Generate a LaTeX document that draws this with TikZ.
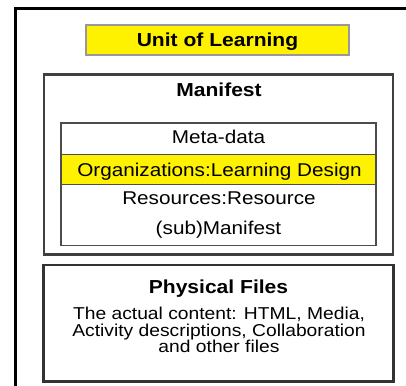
\documentclass[tikz,border=0pt]{standalone}
\usepackage{fontspec}
\setmainfont{Liberation Sans}[FakeStretch=1.12]
\begin{document}
\begin{tikzpicture}[x=1pt,y=-1pt,
  txt/.style={inner sep=0pt,anchor=base,font=\fontsize{18.5}{20}\selectfont},
  btxt/.style={txt,font=\fontsize{18.8}{20}\selectfont\bfseries},
  ybox/.style={fill=yellow,draw=#1,inner sep=0pt},
]
\useasboundingbox (0,0) rectangle (406,385);
\clip (0,0) rectangle (406,385);
% outer frame
\draw[line width=3pt,black] (15,420) -- (15,9) -- (430,9);
% unit of learning
\node[ybox=black!40,line width=2pt,minimum width=263pt,minimum height=30pt] (uol) at (217.5,40) {};
\node[btxt] (uoltxt) at (217.5,46.5) {Unit of Learning};
% manifest box
\node[draw=black!75,line width=2.5pt,minimum width=349pt,minimum height=180pt,inner sep=0pt] (man) at (218.5,164.5) {};
\node[btxt] (mantxt) at (219,96.5) {Manifest};
% inner box
\node[draw=black!70,line width=1.5pt,minimum width=315pt,minimum height=122.5pt,inner sep=0pt] (inner) at (218.5,184) {};
\node[ybox=black!70,line width=1.5pt,minimum width=315pt,minimum height=30pt] (org) at (218.5,169.5) {};
\node[txt] (meta) at (218.5,143.5) {Meta-data};
\node[txt] (orgtxt) at (219.5,176) {Organizations:Learning Design};
\node[txt] (res) at (219,204.5) {Resources:Resource};
\node[txt] (sub) at (218.5,234.5) {(sub)Manifest};
% physical files
\node[draw=black!80,line width=2.5pt,minimum width=350pt,minimum height=116.5pt,inner sep=0pt] (phys) at (218.5,323) {};
\node[btxt] (phystitle) at (218.5,293.5) {Physical Files};
\node[inner sep=0pt,align=center,font=\fontsize{17.2}{16.3}\selectfont] (physbody) at (219,330) {The actual content: HTML, Media,\\Activity descriptions, Collaboration\\and other files};
\end{tikzpicture}
\end{document}
